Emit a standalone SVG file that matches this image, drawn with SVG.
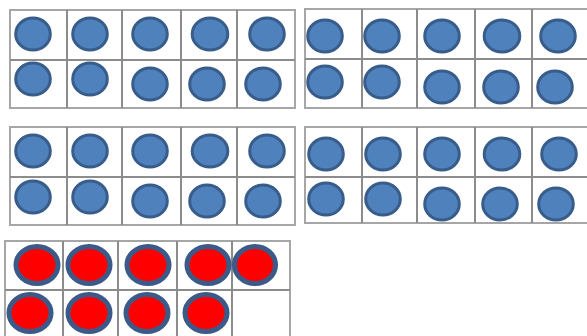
<svg xmlns="http://www.w3.org/2000/svg" width="587" height="336" viewBox="0 0 587 336">
<style>
.grid{fill:none;stroke:#a6a6a6;stroke-width:2}
.sep{stroke:#8c8c8c;stroke-width:2}
.b{fill:#4f81bd;stroke:#385d8a;stroke-width:3}
.r{fill:#ff0000;stroke:#3b5a88;stroke-width:5}
</style>
<rect width="587" height="336" fill="#ffffff"/>
<g id="frame1">
<rect class="grid" x="10" y="10" width="285" height="98"/>
<path class="sep" d="M10 60H295M67 10V108M122 10V108M181 10V108M237 10V108"/>
<ellipse class="b" cx="33" cy="34" rx="17.3" ry="16"/>
<ellipse class="b" cx="90" cy="34" rx="17.3" ry="16"/>
<ellipse class="b" cx="150" cy="34" rx="17.3" ry="16"/>
<ellipse class="b" cx="210" cy="34" rx="17.8" ry="16"/>
<ellipse class="b" cx="267" cy="34" rx="17.3" ry="16"/>
<ellipse class="b" cx="33" cy="79" rx="17.3" ry="16"/>
<ellipse class="b" cx="90" cy="79" rx="17.3" ry="16"/>
<ellipse class="b" cx="150" cy="84" rx="17.3" ry="16"/>
<ellipse class="b" cx="207" cy="84" rx="17.3" ry="16"/>
<ellipse class="b" cx="263" cy="84" rx="17.3" ry="16"/>
</g>
<g id="frame2">
<rect class="grid" x="305" y="9" width="290" height="99"/>
<path class="sep" d="M305 59H587M362 9V108M417 9V108M475 9V108M532 9V108"/>
<ellipse class="b" cx="325" cy="36" rx="17.3" ry="16"/>
<ellipse class="b" cx="382" cy="36" rx="17.3" ry="16"/>
<ellipse class="b" cx="442" cy="36" rx="17.3" ry="16"/>
<ellipse class="b" cx="502" cy="36" rx="17.8" ry="16"/>
<ellipse class="b" cx="558" cy="36" rx="17.3" ry="16"/>
<ellipse class="b" cx="325" cy="82" rx="17.3" ry="16"/>
<ellipse class="b" cx="382" cy="82" rx="17.3" ry="16"/>
<ellipse class="b" cx="442" cy="87" rx="17.3" ry="16"/>
<ellipse class="b" cx="501" cy="87" rx="17.3" ry="16"/>
<ellipse class="b" cx="555" cy="87" rx="17.3" ry="16"/>
</g>
<g id="frame3">
<rect class="grid" x="10" y="127" width="285" height="98"/>
<path class="sep" d="M10 177H295M67 127V225M122 127V225M181 127V225M237 127V225"/>
<ellipse class="b" cx="33" cy="151" rx="17.3" ry="16"/>
<ellipse class="b" cx="90" cy="151" rx="17.3" ry="16"/>
<ellipse class="b" cx="150" cy="151" rx="17.3" ry="16"/>
<ellipse class="b" cx="210" cy="151" rx="17.8" ry="16"/>
<ellipse class="b" cx="267" cy="151" rx="17.3" ry="16"/>
<ellipse class="b" cx="33" cy="197" rx="17.3" ry="16"/>
<ellipse class="b" cx="90" cy="197" rx="17.3" ry="16"/>
<ellipse class="b" cx="150" cy="201" rx="17.3" ry="16"/>
<ellipse class="b" cx="207" cy="201" rx="17.3" ry="16"/>
<ellipse class="b" cx="263" cy="201" rx="17.3" ry="16"/>
</g>
<g id="frame4">
<rect class="grid" x="305" y="127" width="290" height="96"/>
<path class="sep" d="M305 177H587M362 127V223M417 127V223M475 127V223M532 127V223"/>
<ellipse class="b" cx="326" cy="154" rx="17.3" ry="16"/>
<ellipse class="b" cx="383" cy="154" rx="17.3" ry="16"/>
<ellipse class="b" cx="442" cy="154" rx="17.3" ry="16"/>
<ellipse class="b" cx="502" cy="154" rx="17.8" ry="16"/>
<ellipse class="b" cx="559" cy="154" rx="17.3" ry="16"/>
<ellipse class="b" cx="326" cy="199" rx="17.3" ry="16"/>
<ellipse class="b" cx="383" cy="199" rx="17.3" ry="16"/>
<ellipse class="b" cx="442" cy="204" rx="17.3" ry="16"/>
<ellipse class="b" cx="500" cy="204" rx="17.3" ry="16"/>
<ellipse class="b" cx="556" cy="204" rx="17.3" ry="16"/>
</g>
<g id="frame5">
<rect class="grid" x="5" y="241" width="285" height="100"/>
<path class="sep" d="M5 290H290M63 241V336M118 241V336M177 241V336M232 241V336"/>
<ellipse class="r" cx="37" cy="265" rx="21" ry="18.5"/>
<ellipse class="r" cx="89" cy="265" rx="21" ry="18.5"/>
<ellipse class="r" cx="148" cy="265" rx="21" ry="18.5"/>
<ellipse class="r" cx="208" cy="265" rx="21" ry="18.5"/>
<ellipse class="r" cx="255" cy="265" rx="20.5" ry="18.5"/>
<ellipse class="r" cx="30" cy="313" rx="21" ry="18.5"/>
<ellipse class="r" cx="89" cy="313" rx="21" ry="18.5"/>
<ellipse class="r" cx="147" cy="313" rx="21" ry="18.5"/>
<ellipse class="r" cx="206" cy="313" rx="21" ry="18.5"/>
</g>
</svg>
